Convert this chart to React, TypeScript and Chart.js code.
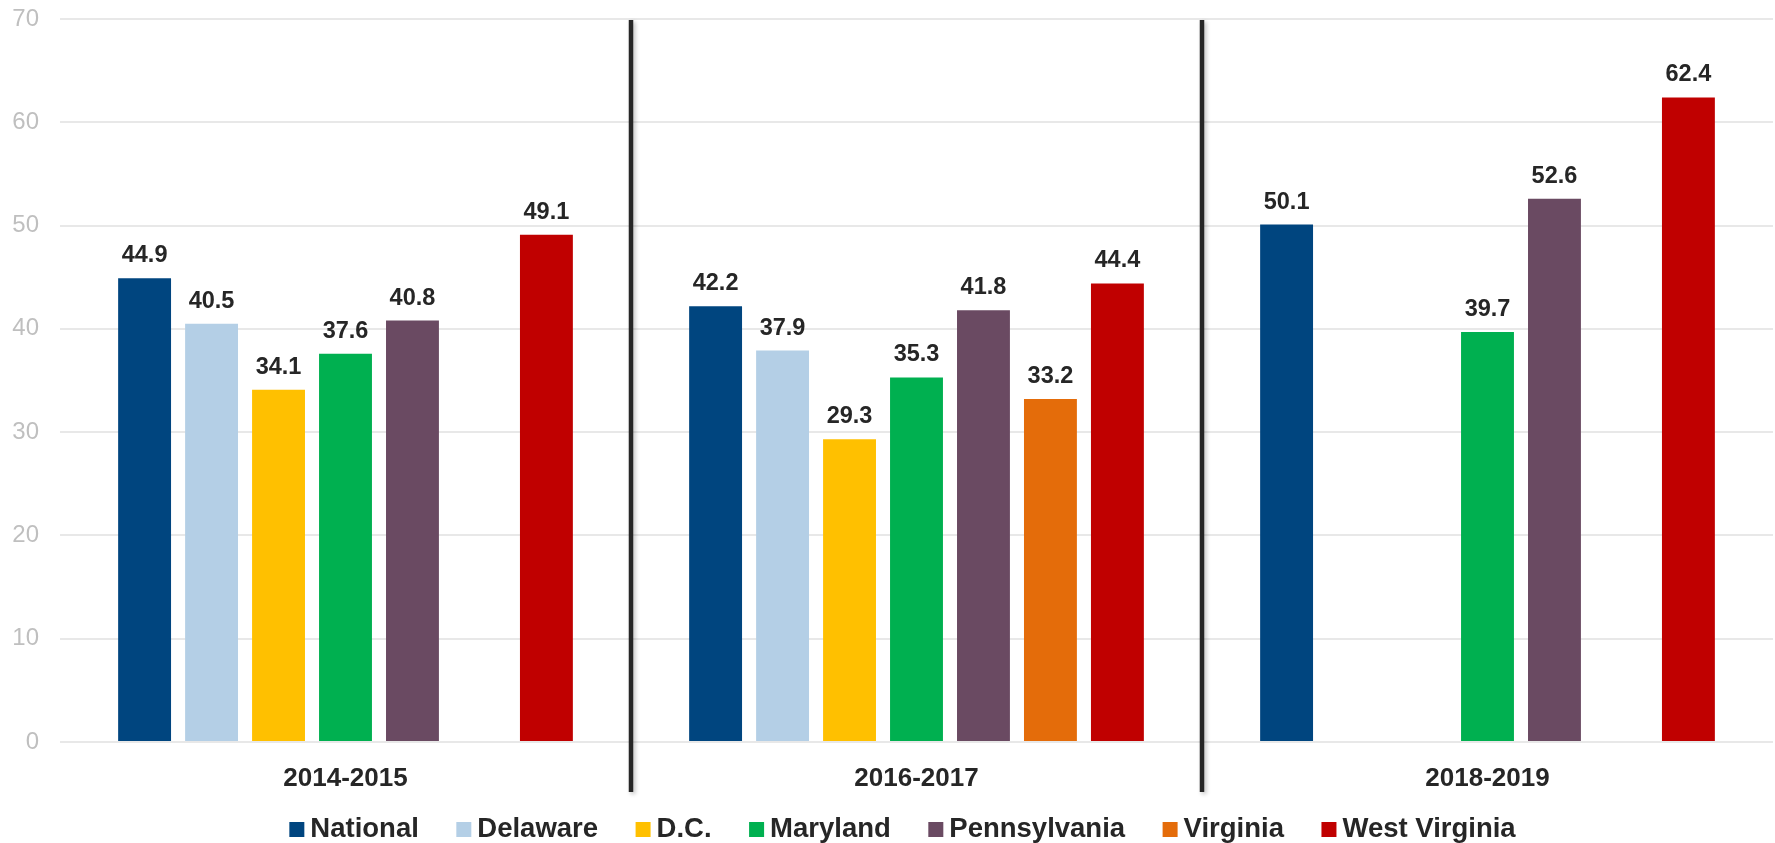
import React, { useEffect, useRef } from 'react';
import { Chart, registerables } from 'chart.js';

Chart.register(...registerables);

const categories = ['2014-2015', '2016-2017', '2018-2019'];
const seriesNames = ['National', 'Delaware', 'D.C.', 'Maryland', 'Pennsylvania', 'Virginia', 'West Virginia'];
const national = [44.9, 42.2, 50.1];
const delaware = [40.5, 37.9, null];
const dc = [34.1, 29.3, null];
const maryland = [37.6, 35.3, 39.7];
const pennsylvania = [40.8, 41.8, 52.6];
const virginia = [null, 33.2, null];
const westVirginia = [49.1, 44.4, 62.4];
const seriesValues = [national, delaware, dc, maryland, pennsylvania, virginia, westVirginia];
const seriesColors = ['#00457F', '#B4CFE6', '#FFC000', '#00B050', '#6A4A62', '#E46C0A', '#C00000'];
const yMin = 0;
const yMax = 70;
const yStep = 10;

const FONT = '"Liberation Sans", Arial, Helvetica, sans-serif';
const TEXT = '#262626';

const dataLabelPlugin = {
  id: 'dataLabels',
  afterDatasetsDraw(chart: any) {
    const ctx = chart.ctx;
    ctx.save();
    ctx.font = `bold 23.5px ${FONT}`;
    ctx.fillStyle = TEXT;
    ctx.textAlign = 'center';
    ctx.textBaseline = 'alphabetic';
    chart.data.datasets.forEach((ds: any, di: number) => {
      const meta = chart.getDatasetMeta(di);
      meta.data.forEach((el: any, i: number) => {
        const v = ds.data[i];
        if (v === null || v === undefined) return;
        ctx.fillText(Number(v).toFixed(1), el.x, el.y - 16);
      });
    });
    ctx.restore();
  },
};

const separatorPlugin = {
  id: 'separators',
  afterDraw(chart: any) {
    const ctx = chart.ctx;
    const xs = chart.scales.x;
    const step = xs.getPixelForValue(1) - xs.getPixelForValue(0);
    ctx.save();
    ctx.strokeStyle = '#262626';
    ctx.lineWidth = 4.5;
    ctx.shadowColor = 'rgba(0,0,0,0.25)';
    ctx.shadowBlur = 4;
    ctx.shadowOffsetX = 2;
    ctx.shadowOffsetY = 2;
    for (let i = 0; i < categories.length - 1; i++) {
      const x = xs.getPixelForValue(i) + step / 2;
      ctx.beginPath();
      ctx.moveTo(x, chart.chartArea.top + 1);
      ctx.lineTo(x, 792);
      ctx.stroke();
    }
    ctx.restore();
  },
};

const legendPlugin = {
  id: 'customLegend',
  afterDraw(chart: any) {
    const ctx = chart.ctx;
    ctx.save();
    ctx.font = `bold 27.5px ${FONT}`;
    const box = 15;
    const gap = 6;
    const spacing = 37.5;
    const widths = seriesNames.map((n) => ctx.measureText(n).width);
    const total = widths.reduce((a, b) => a + b, 0) + seriesNames.length * (box + gap) + (seriesNames.length - 1) * spacing;
    let x = 902.5 - total / 2;
    const baseline = 837;
    ctx.textBaseline = 'alphabetic';
    ctx.textAlign = 'left';
    seriesNames.forEach((n, i) => {
      ctx.fillStyle = seriesColors[i];
      ctx.fillRect(x, baseline - box, box, box);
      ctx.fillStyle = TEXT;
      ctx.fillText(n, x + box + gap, baseline);
      x += box + gap + widths[i] + spacing;
    });
    ctx.restore();
  },
};

export default function App() {
  const canvasRef = useRef<HTMLCanvasElement | null>(null);

  useEffect(() => {
    if (!canvasRef.current) return;
    const chart = new Chart(canvasRef.current, {
      type: 'bar',
      data: {
        labels: categories,
        datasets: seriesNames.map((name, i) => ({
          label: name,
          data: seriesValues[i],
          backgroundColor: seriesColors[i],
          borderWidth: 0,
          categoryPercentage: 0.821,
          barPercentage: 0.79,
        })),
      },
      options: {
        responsive: false,
        devicePixelRatio: 1,
        animation: false,
        layout: { padding: { top: 19, right: 2, left: 0, bottom: 0 } },
        plugins: {
          legend: { display: false },
          tooltip: { enabled: false },
          title: { display: false },
        },
        scales: {
          x: {
            grid: { display: false },
            border: { display: false },
            ticks: {
              color: TEXT,
              font: { family: FONT, size: 26, weight: 'bold' },
              padding: 13,
            },
            afterFit: (s: any) => {
              s.height = 101;
            },
          },
          y: {
            min: yMin,
            max: yMax,
            grid: { color: '#E8E8E8', lineWidth: 2, drawTicks: false },
            border: { display: false },
            ticks: {
              stepSize: yStep,
              color: '#BFBFBF',
              font: { family: FONT, size: 24 },
              padding: 21,
            },
            afterFit: (s: any) => {
              s.width = 60;
              s.paddingTop = 0;
              s.paddingBottom = 0;
            },
          },
        },
      },
      plugins: [dataLabelPlugin, separatorPlugin, legendPlugin],
    } as any);
    return () => chart.destroy();
  }, []);

  return (
    <div style={{ position: 'absolute', left: 0, top: 0, width: 1775, height: 843, background: '#fff' }}>
      <canvas ref={canvasRef} width={1775} height={843} style={{ display: 'block' }} />
    </div>
  );
}
